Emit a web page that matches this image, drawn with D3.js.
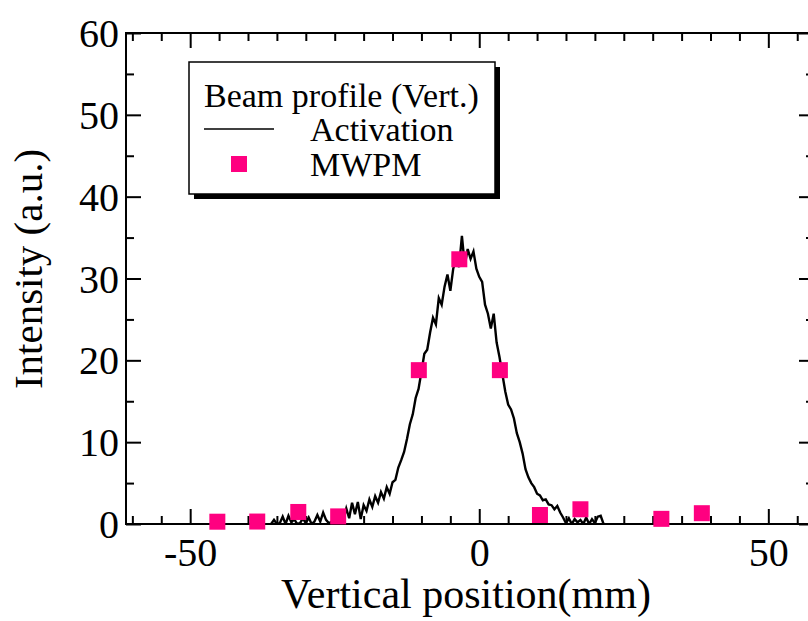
<!DOCTYPE html>
<html>
<head>
<meta charset="utf-8">
<script src="https://cdn.jsdelivr.net/npm/d3@7"></script>
<style>
  body { margin: 0; background: #fff; }
  svg { display: block; font-family: "Liberation Serif", "Times New Roman", serif; }
  .domain { display: none; }
</style>
</head>
<body>
<script>
// chart data
var xMajor = [-50, 0, 50];
var xMinor = [-60, -55, -45, -40, -35, -30, -25, -20, -15, -10, -5, 5, 10, 15, 20, 25, 30, 35, 40, 45, 55];
var yMajor = [0, 10, 20, 30, 40, 50, 60];
var yMinor = [5, 15, 25, 35, 45, 55];

// MWPM points
var mwpmPos = [-45.3, -38.4, -31.3, -24.4, -10.45, -3.45, 3.57, 10.5, 17.5, 31.5, 38.5];
var mwpmVal = [0.28, 0.3, 1.47, 0.93, 18.8, 32.35, 18.8, 1.1, 1.8, 0.63, 1.32];

// activation profile
var actPos = [-36, -35.5, -35, -34.5, -34, -33.5, -33, -32.5, -32, -31.5, -31, -30.5, -30, -29.5, -29, -28.5,
  -28, -27.5, -27, -26.5, -26, -25.5, -25, -24.5, -24, -23.5, -23, -22.5, -22, -21.5, -21, -20.5,
  -20, -19.5, -19, -18.5, -18, -17.5, -17, -16.5, -16, -15.5, -15, -14.5, -14, -13.5, -13, -12.5,
  -12, -11.5, -11, -10.5, -10, -9.5, -9, -8.5, -8, -7.5, -7, -6.5, -6, -5.5, -5, -4.5,
  -4, -3.5, -3, -2.5, -2, -1.5, -1, -0.5, 0, 0.5, 1, 1.5, 2, 2.5, 3, 3.5,
  4, 4.5, 5, 5.5, 6, 6.5, 7, 7.5, 8, 8.5, 9, 9.5, 10, 10.5, 11, 11.5,
  12, 12.5, 13, 13.5, 14, 14.5, 15, 15.5, 16, 16.5, 17, 17.5, 18, 18.5, 19, 19.5,
  20, 20.5, 21, 21.5];
var actVal = [0, 0.5, 0, 0.1, 0.9, 0, 1.0, 0.2, 0.6, 0, 0.1, 0.7, 0.1, 0.8, 0, 0.3,
  1.1, 0.3, 1.4, 0.5, 0.1, 0.3, 0.9, 0.4, 1.3, 0.5, 1.9, 0.7, 2.6, 1.2, 2.7, 0.6,
  2.3, 1.6, 3.0, 2.1, 3.4, 2.6, 3.9, 3.1, 4.5, 3.7, 5.1, 5.4, 6.9, 7.8, 8.8, 10.4,
  12.2, 13.4, 15.4, 16.5, 18.6, 20.8, 21.3, 23.4, 25.2, 24.4, 27.6, 26.8, 29.0, 30.5, 28.5, 31.2,
  32.4, 31.4, 35.2, 31.6, 33.6, 32.4, 33.3, 31.2, 30.2, 29.6, 26.8, 25.7, 23.9, 25.7, 22.2, 20.4,
  18.3, 16.2, 14.6, 14.0, 12.9, 11.1, 10.0, 8.6, 6.7, 5.7, 5.0, 4.5, 3.7, 3.5, 2.9, 3.0,
  2.4, 2.3, 1.8, 2.2, 1.4, 0.8, 0.1, 0.7, 0, 0.6, 0.2, 0.5, 0, 0.8, 0, 0.6,
  0.1, 0.9, 1.0, 0];

var dimensions = { width: 808, height: 621 };
var plot = { left: 126, right: 814, top: 33, bottom: 524 };

var svg = d3.select('body').append('svg')
  .attr('width', dimensions.width).attr('height', dimensions.height);

var x = d3.scaleLinear().domain([-61.1, 57.9]).range([plot.left, plot.right]);
var y = d3.scaleLinear().domain([0, 60]).range([plot.bottom, plot.top]);

// axes, ticks pointing inward on all four sides
var addAxis = function(axis, tx, ty, values, size, labels) {
  var g = svg.append('g').attr('transform', 'translate(' + tx + ',' + ty + ')')
    .call(axis.tickValues(values).tickSizeInner(-size).tickSizeOuter(0)
      .tickFormat(labels ? d3.format('d') : ''));
  g.attr('font-family', null).attr('font-size', null);
  g.selectAll('line').attr('stroke', '#000').attr('stroke-width', 2);
  return g;
};

var bx = addAxis(d3.axisBottom(x), 0, plot.bottom, xMajor, 15, true);
addAxis(d3.axisBottom(x), 0, plot.bottom, xMinor, 8, false);
addAxis(d3.axisTop(x), 0, plot.top, xMajor, 15, false);
addAxis(d3.axisTop(x), 0, plot.top, xMinor, 8, false);
var ly = addAxis(d3.axisLeft(y), plot.left, 0, yMajor, 15, true);
addAxis(d3.axisLeft(y), plot.left, 0, yMinor, 8, false);
addAxis(d3.axisRight(y), plot.right, 0, yMajor, 15, false);
addAxis(d3.axisRight(y), plot.right, 0, yMinor, 8, false);

bx.selectAll('text').attr('font-size', 40).attr('fill', '#000')
  .attr('y', 14).attr('dy', '0.71em')
  .text(function(d) { return d < 0 ? '-' + Math.abs(d) : d; });
ly.selectAll('text').attr('font-size', 40).attr('fill', '#000')
  .attr('x', -7).attr('dy', '0.34em');

// frame
svg.append('rect')
  .attr('x', plot.left).attr('y', plot.top)
  .attr('width', plot.right - plot.left).attr('height', plot.bottom - plot.top)
  .attr('fill', 'none').attr('stroke', '#000').attr('stroke-width', 2);

svg.append('clipPath').attr('id', 'clip').append('rect')
  .attr('x', plot.left).attr('y', plot.top - 10)
  .attr('width', plot.right - plot.left).attr('height', plot.bottom - plot.top + 10);

var actData = actPos.map(function(p, i) { return [p, actVal[i]]; });
var line = d3.line().x(function(d) { return x(d[0]); }).y(function(d) { return y(d[1]); });

svg.append('path')
  .datum(actData)
  .attr('clip-path', 'url(#clip)')
  .attr('d', line)
  .attr('fill', 'none').attr('stroke', '#000').attr('stroke-width', 2.4)
  .attr('stroke-linejoin', 'miter');

var sq = 16;
svg.append('g').selectAll('rect')
  .data(mwpmPos)
  .enter()
  .append('rect')
  .attr('x', function(d) { return x(d) - sq / 2; })
  .attr('y', function(d, i) { return y(mwpmVal[i]) - sq / 2; })
  .attr('width', sq).attr('height', sq)
  .attr('fill', '#ff0080');

// axis titles
svg.append('text')
  .attr('x', 466).attr('y', 608)
  .attr('text-anchor', 'middle').attr('font-size', 42)
  .text('Vertical position(mm)');

svg.append('text')
  .attr('transform', 'translate(42,269) rotate(-90)')
  .attr('text-anchor', 'middle').attr('font-size', 41)
  .text('Intensity (a.u.)');

// legend
var legend = svg.append('g');
legend.append('rect')
  .attr('x', 194).attr('y', 67).attr('width', 306).attr('height', 132)
  .attr('fill', '#000');
legend.append('rect')
  .attr('x', 189).attr('y', 62).attr('width', 306).attr('height', 132)
  .attr('fill', '#fff').attr('stroke', '#000').attr('stroke-width', 1.5);
legend.append('text').attr('x', 204).attr('y', 107).attr('font-size', 34)
  .text('Beam profile (Vert.)');
legend.append('line').attr('x1', 204).attr('x2', 274).attr('y1', 129).attr('y2', 129)
  .attr('stroke', '#000').attr('stroke-width', 1.6);
legend.append('text').attr('x', 310).attr('y', 141).attr('font-size', 34)
  .text('Activation');
legend.append('rect').attr('x', 231).attr('y', 156).attr('width', sq).attr('height', sq)
  .attr('fill', '#ff0080');
legend.append('text').attr('x', 310).attr('y', 176).attr('font-size', 34)
  .text('MWPM');
</script>
</body>
</html>
